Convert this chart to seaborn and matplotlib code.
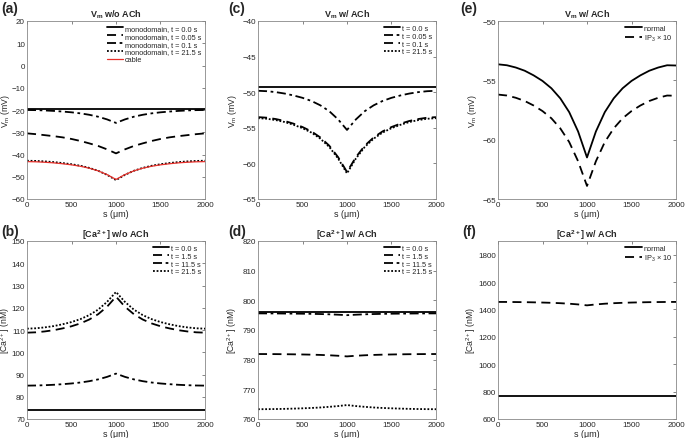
import numpy as np
import pandas as pd
import matplotlib
matplotlib.use("Agg")
import matplotlib.pyplot as plt
import seaborn as sns

# position along the fibre (um)
s = [0, 100, 200, 300, 400, 500, 600, 700, 800, 900, 1000,
     1100, 1200, 1300, 1400, 1500, 1600, 1700, 1800, 1900, 2000]

# (a) Vm without ACh
a_t0 = [-19.7] * 21
a_t005 = [-20.0, -20.06, -20.2, -20.41, -20.7, -21.04, -21.51, -22.15, -23.02, -24.23, -25.8,
          -24.23, -23.02, -22.15, -21.51, -21.04, -20.7, -20.41, -20.2, -20.06, -20.0]
a_t01 = [-30.5, -30.86, -31.31, -31.76, -32.3, -33.02, -33.92, -35.0, -36.17, -37.7, -39.5,
         -37.7, -36.17, -35.0, -33.92, -33.02, -32.3, -31.76, -31.31, -30.86, -30.5]
a_t215 = [-42.8, -42.89, -43.1, -43.41, -43.84, -44.37, -45.06, -46.02, -47.32, -49.15, -51.5,
          -49.15, -47.32, -46.02, -45.06, -44.37, -43.84, -43.41, -43.1, -42.89, -42.8]
a_cable = [-43.2, -43.28, -43.48, -43.76, -44.16, -44.64, -45.28, -46.16, -47.36, -49.04, -51.2,
           -49.04, -47.36, -46.16, -45.28, -44.64, -44.16, -43.76, -43.48, -43.28, -43.2]

# (b) Ca without ACh
b_t0 = [74.0] * 21
b_t15 = [108.8, 108.96, 109.36, 109.92, 110.72, 111.68, 112.96, 114.72, 117.12, 120.48, 125.0,
         120.48, 117.12, 114.72, 112.96, 111.68, 110.72, 109.92, 109.36, 108.96, 108.8]
b_t115 = [85.0, 85.06, 85.19, 85.38, 85.65, 85.97, 86.4, 87.0, 87.81, 88.94, 90.4,
          88.94, 87.81, 87.0, 86.4, 85.97, 85.65, 85.38, 85.19, 85.06, 85.0]
b_t215 = [110.6, 110.77, 111.18, 111.76, 112.58, 113.57, 114.89, 116.71, 119.18, 122.65, 127.1,
          122.65, 119.18, 116.71, 114.89, 113.57, 112.58, 111.76, 111.18, 110.77, 110.6]

# (c) Vm with ACh
c_t0 = [-49.2] * 21
c_t005 = [-49.8, -49.86, -49.99, -50.19, -50.46, -50.79, -51.23, -51.84, -52.66, -53.82, -55.3,
          -53.82, -52.66, -51.84, -51.23, -50.79, -50.46, -50.19, -49.99, -49.86, -49.8]
c_t01 = [-53.5, -53.58, -53.77, -54.04, -54.42, -54.89, -55.5, -56.35, -57.5, -59.12, -61.2,
         -59.12, -57.5, -56.35, -55.5, -54.89, -54.42, -54.04, -53.77, -53.58, -53.5]
c_t215 = [-53.65, -53.73, -53.92, -54.19, -54.58, -55.05, -55.67, -56.52, -57.68, -59.31, -61.4,
          -59.31, -57.68, -56.52, -55.67, -55.05, -54.58, -54.19, -53.92, -53.73, -53.65]

# (d) Ca with ACh
d_t0 = [796.2] * 21
d_t15 = [781.9, 781.89, 781.87, 781.84, 781.8, 781.75, 781.69, 781.6, 781.48, 781.32, 781.1,
         781.32, 781.48, 781.6, 781.69, 781.75, 781.8, 781.84, 781.87, 781.89, 781.9]
d_t115 = [795.6, 795.59, 795.58, 795.55, 795.52, 795.49, 795.44, 795.38, 795.29, 795.16, 795.0,
          795.16, 795.29, 795.38, 795.44, 795.49, 795.52, 795.55, 795.58, 795.59, 795.6]
d_t215 = [763.3, 763.32, 763.36, 763.42, 763.5, 763.6, 763.72, 763.88, 764.1, 764.36, 764.7,
          764.36, 764.1, 763.88, 763.72, 763.6, 763.5, 763.42, 763.36, 763.32, 763.3]

# (e) Vm with ACh, IP3 comparison
e_normal = [-53.65, -53.73, -53.92, -54.19, -54.58, -55.05, -55.67, -56.52, -57.68, -59.31, -61.5,
            -59.31, -57.68, -56.52, -55.67, -55.05, -54.58, -54.19, -53.92, -53.73, -53.75]
e_ip3 = [-56.2, -56.28, -56.47, -56.74, -57.12, -57.59, -58.2, -59.05, -60.2, -61.82, -63.9,
         -61.82, -60.2, -59.05, -58.2, -57.59, -57.12, -56.74, -56.47, -56.28, -56.3]

# (f) Ca with ACh, IP3 comparison
f_normal = [765] * 21
f_ip3 = [1455, 1454.8, 1454.1, 1453.3, 1452, 1450.5, 1448.5, 1445.8, 1442, 1436.8, 1430,
         1436.8, 1442, 1445.8, 1448.5, 1450.5, 1452, 1453.3, 1454.1, 1454.8, 1455]

sns.set_style("white")
plt.rcParams["font.family"] = ["Liberation Sans", "DejaVu Sans"]
plt.rcParams["mathtext.fontset"] = "custom"
plt.rcParams["mathtext.rm"] = "Liberation Sans"
plt.rcParams["mathtext.bf"] = "Liberation Sans:bold"
plt.rcParams["mathtext.it"] = "Liberation Sans:italic"

fig = plt.figure(figsize=(6.85, 4.39), dpi=100)

SOLID = "-"
DASH = (0, (5, 3))
DASHDOT = (0, (5, 2, 1.5, 2))
DOT = (0, (1, 1))
LW = 1.3

lefts = [27, 258, 498]
tops = [22, 242]
W, H = 178, 178


def make_ax(col, row):
    l = lefts[col] / 685
    b = 1 - (tops[row] + H) / 439
    return fig.add_axes([l, b, W / 685, H / 439])


def draw(ax, series, ylim, yticks, title, ylabel, tag, tagpos, labx=-0.105):
    for y, lab, ls, col, lw in series:
        df = pd.DataFrame({"s": s, "v": y})
        sns.lineplot(data=df, x="s", y="v", ax=ax, color=col, linewidth=lw,
                     linestyle=ls, label=lab)
    ax.set_xlim(0, 2000)
    ax.set_ylim(*ylim)
    ax.set_xticks([0, 500, 1000, 1500, 2000])
    ax.set_yticks(yticks)
    ax.tick_params(direction="in", length=2.5, labelsize=5.8, top=True, right=True,
                   pad=1.5, width=0.5, color="#555555")
    for sp in ax.spines.values():
        sp.set_linewidth(0.6)
        sp.set_color("#888888")
    ax.set_xlabel("s (\u03bcm)", fontsize=6.5, labelpad=0.5)
    ax.set_ylabel(ylabel, fontsize=6.2)
    ax.yaxis.set_label_coords(labx, 0.5)
    ax.set_title(title, fontsize=6.5, fontweight="bold", pad=3)
    fig.text(tagpos[0] / 685, 1 - tagpos[1] / 439, tag, fontsize=10,
             fontweight="bold", ha="left", va="top")
    ax.legend(loc="upper right", frameon=False, fontsize=5.3, handlelength=2.2,
              handletextpad=0.3, labelspacing=0.1, borderaxespad=0.3,
              borderpad=0.2)


vm_lab = r"V$_\mathregular{m}$ (mV)"
ca_lab = r"[Ca$^\mathregular{2+}$] (nM)"
vm_wo = r"$\mathbf{V_m}$ w/o ACh"
vm_w = r"$\mathbf{V_m}$ w/ ACh"
ca_wo = r"[Ca$^\mathbf{2+}$] w/o ACh"
ca_w = r"[Ca$^\mathbf{2+}$] w/ ACh"
ip3 = r"IP$_\mathregular{3}$ $\times$ 10"

ax = make_ax(0, 0)
draw(ax, [(a_t0, "monodomain, t = 0.0 s", SOLID, "black", LW),
          (a_t005, "monodomain, t = 0.05 s", DASH, "black", LW),
          (a_t01, "monodomain, t = 0.1 s", DASHDOT, "black", LW),
          (a_t215, "monodomain, t = 21.5 s", DOT, "black", LW),
          (a_cable, "cable", SOLID, "#e8302a", 0.9)],
     (-60, 20), range(-60, 21, 10), vm_wo, vm_lab, "(a)", (1, 2), labx=-0.082)
# the curves: t=0.05 lies near -20, t=0.1 near -30 (dash styles as in figure)
ax.lines[1].set_linestyle(DASHDOT)
ax.lines[2].set_linestyle(DASH)

ax = make_ax(0, 1)
draw(ax, [(b_t0, "t = 0.0 s", SOLID, "black", LW),
          (b_t15, "t = 1.5 s", DASH, "black", LW),
          (b_t115, "t = 11.5 s", DASHDOT, "black", LW),
          (b_t215, "t = 21.5 s", DOT, "black", LW)],
     (70, 150), range(70, 151, 10), ca_wo, ca_lab, "(b)", (1, 225), labx=-0.082)

ax = make_ax(1, 0)
draw(ax, [(c_t0, "t = 0.0 s", SOLID, "black", LW),
          (c_t005, "t = 0.05 s", DASHDOT, "black", LW),
          (c_t01, "t = 0.1 s", DASH, "black", LW),
          (c_t215, "t = 21.5 s", DOT, "black", LW)],
     (-65, -40), range(-65, -39, 5), vm_w, vm_lab, "(c)", (228, 2))

ax = make_ax(1, 1)
draw(ax, [(d_t0, "t = 0.0 s", SOLID, "black", LW),
          (d_t15, "t = 1.5 s", DASH, "black", LW),
          (d_t115, "t = 11.5 s", DASHDOT, "black", LW),
          (d_t215, "t = 21.5 s", DOT, "black", LW)],
     (760, 820), range(760, 821, 10), ca_w, ca_lab, "(d)", (228, 225))

ax = make_ax(2, 0)
draw(ax, [(e_normal, "normal", SOLID, "black", LW),
          (e_ip3, ip3, DASH, "black", LW)],
     (-65, -50), range(-65, -49, 5), vm_w, vm_lab, "(e)", (460, 2))

ax = make_ax(2, 1)
draw(ax, [(f_normal, "normal", SOLID, "black", LW),
          (f_ip3, ip3, DASH, "black", LW)],
     (600, 1900), range(600, 1801, 200), ca_w, ca_lab, "(f)", (462, 225), labx=-0.115)

fig.savefig("out.png", dpi=100)
